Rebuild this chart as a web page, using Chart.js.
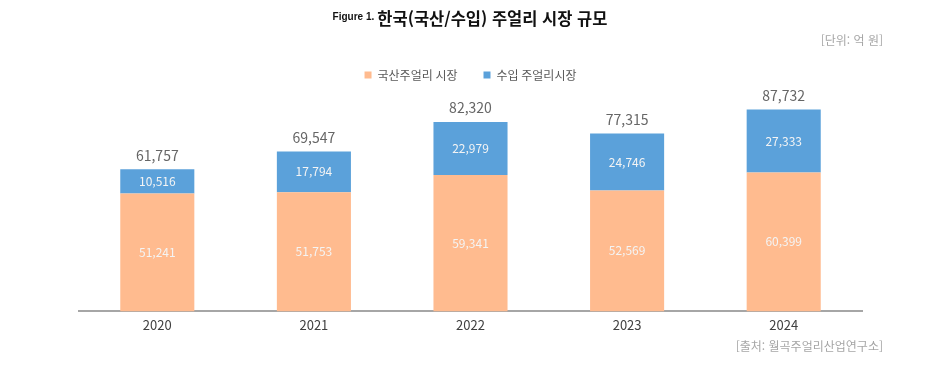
<!DOCTYPE html>
<html lang="ko">
<head>
    <meta charset="UTF-8">
    <title>한국(국산/수입) 주얼리 시장 규모</title>
    <script src="https://cdn.jsdelivr.net/npm/chart.js"></script>
    <style>
        body { margin: 0; padding: 0; background: #fff; font-family: "Noto Sans CJK KR", sans-serif; }
        #wrap { position: relative; width: 940px; height: 368px; }
        #title { position: absolute; left: 0; width: 940px; top: 6px; text-align: center; color: #111; }
        #title .fig { font-family: "Liberation Sans", Arial, sans-serif; font-size: 10px; font-weight: bold; vertical-align: 5px; margin-right: 3px; }
        #title .main { font-size: 16.5px; font-weight: bold; }
        .note { position: absolute; right: 57px; font-size: 12px; color: #a6a6a6; }
        #unit { top: 31px; }
        #source { top: 337px; }
        canvas { position: absolute; left: 0; top: 0; }
    </style>
</head>
<body>
<div id="wrap">
    <canvas id="jewelChart" width="940" height="368"></canvas>
    <div id="title"><span class="fig">Figure 1.</span><span class="main">한국(국산/수입) 주얼리 시장 규모</span></div>
    <div class="note" id="unit">[단위: 억 원]</div>
    <div class="note" id="source">[출처: 월곡주얼리산업연구소]</div>
</div>
<script>
    const years = ['2020', '2021', '2022', '2023', '2024'];
    const domestic = [51241, 51753, 59341, 52569, 60399];
    const imported = [10516, 17794, 22979, 24746, 27333];
    const totals = [61757, 69547, 82320, 77315, 87732];

    const fontFamily = '"Noto Sans CJK KR", "Noto Sans", sans-serif';
    const fmt = v => v.toLocaleString('en-US');

    // value labels inside each segment and totals above the stacks
    const labelPlugin = {
        id: 'valueLabels',
        afterDatasetsDraw(chart) {
            const ctx = chart.ctx;
            ctx.save();
            ctx.textAlign = 'center';
            ctx.textBaseline = 'middle';
            ctx.font = '12px ' + fontFamily;
            ctx.fillStyle = '#f4f4f4';
            chart.data.datasets.forEach((ds, di) => {
                chart.getDatasetMeta(di).data.forEach((bar, i) => {
                    const mid = (bar.y + bar.base) / 2;
                    ctx.fillText(fmt(ds.data[i]), bar.x, mid);
                });
            });
            ctx.font = '14px ' + fontFamily;
            ctx.fillStyle = '#666666';
            const top = chart.getDatasetMeta(1).data;
            top.forEach((bar, i) => {
                ctx.fillText(fmt(totals[i]), bar.x, bar.y - 14);
            });
            ctx.restore();
        }
    };

    new Chart(document.getElementById('jewelChart'), {
        type: 'bar',
        data: {
            labels: years,
            datasets: [
                { label: '국산주얼리 시장', data: domestic, backgroundColor: '#FFBB8F' },
                { label: '수입 주얼리시장', data: imported, backgroundColor: '#5BA1DA' }
            ]
        },
        options: {
            responsive: false,
            animation: false,
            layout: { padding: { left: 79, right: 78, top: 43, bottom: 37 } },
            datasets: { bar: { categoryPercentage: 1, barPercentage: 0.473 } },
            scales: {
                x: {
                    stacked: true,
                    grid: { display: false },
                    border: { color: '#a6a6a6', width: 2 },
                    ticks: { color: '#404040', font: { family: fontFamily, size: 13 }, padding: -2 }
                },
                y: {
                    stacked: true,
                    display: false,
                    min: 0,
                    max: 95800
                }
            },
            plugins: {
                legend: {
                    position: 'top',
                    labels: {
                        boxWidth: 7, boxHeight: 7, padding: 26,
                        color: '#595959',
                        font: { family: fontFamily, size: 12 }
                    }
                },
                tooltip: { enabled: false }
            }
        },
        plugins: [labelPlugin]
    });
</script>
</body>
</html>
